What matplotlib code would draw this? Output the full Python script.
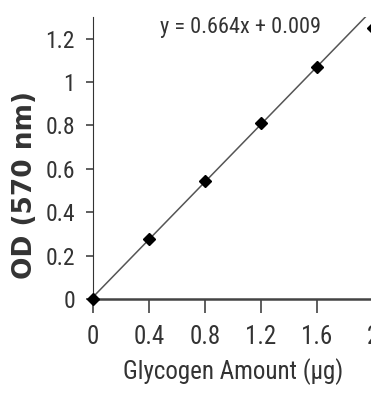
import matplotlib.pyplot as plt
import numpy as np

# glycogen standard curve
glycogen_ug = [0, 0.4, 0.8, 1.2, 1.6, 2.0]
od_570 = [0.0, 0.275, 0.545, 0.81, 1.07, 1.25]
slope = 0.664
intercept = 0.009

x_ticks = [0, 0.4, 0.8, 1.2, 1.6, 2]
x_tick_labels = ['0', '0.4', '0.8', '1.2', '1.6', '2']
y_ticks = [0, 0.2, 0.4, 0.6, 0.8, 1.0, 1.2]
y_tick_labels = ['0', '0.2', '0.4', '0.6', '0.8', '1', '1.2']

plt.rcParams['font.family'] = ['Roboto Condensed', 'DejaVu Sans']

fig = plt.figure(figsize=(3.71, 3.96), dpi=100)
ax = fig.add_axes([0.2507, 0.245, 0.755, 0.712])

# trendline
fit_x = np.array([0, 2.1])
ax.plot(fit_x, slope * fit_x + intercept, color='#555555', linewidth=1.1, zorder=2)
ax.plot(glycogen_ug, od_570, linestyle='none', marker='D', markersize=6.5,
        color='black', zorder=3, clip_on=False)

ax.set_xlim(0, 2)
ax.set_ylim(0, 1.3)
ax.set_xticks(x_ticks)
ax.set_xticklabels(x_tick_labels)
ax.set_yticks(y_ticks)
ax.set_yticklabels(y_tick_labels)

ax.spines['top'].set_visible(False)
ax.spines['right'].set_visible(False)
ax.spines['left'].set_color('#333333')
ax.spines['bottom'].set_color('#444444')
ax.spines['bottom'].set_linewidth(1.8)
ax.tick_params(axis='both', colors='#333333', width=1.1)
ax.tick_params(axis='y', length=5, pad=8, labelsize=17)
ax.tick_params(axis='x', length=10, pad=9, labelsize=18)

ax.text(1.05, 1.25, 'y = 0.664x + 0.009', fontsize=16, ha='center', va='center', color='#333333')

ax.set_xlabel('Glycogen Amount (µg)', fontsize=18, color='#333333', labelpad=6)
ax.set_ylabel('OD (570 nm)', fontsize=19, fontweight='bold', color='#333333',
              family='DejaVu Sans')
ax.yaxis.set_label_coords(-0.195, 0.404)

fig.savefig('out.png', dpi=100)
